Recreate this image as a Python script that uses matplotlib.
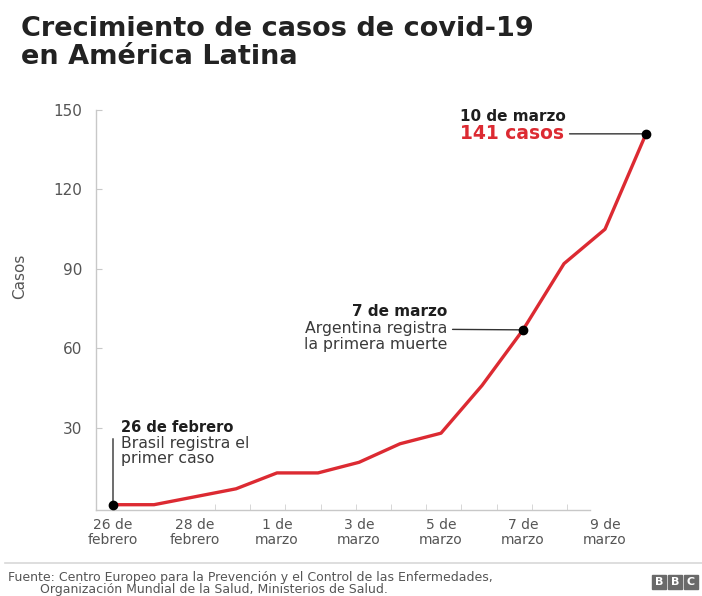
import matplotlib.pyplot as plt
import numpy as np
from matplotlib.patches import Rectangle

plt.rcParams['font.family'] = ['DejaVu Sans']

# casos acumulados, 26 feb - 10 mar 2020
days = list(range(14))
cases = [1, 1, 4, 7, 13, 13, 17, 24, 28, 46, 67, 92, 105, 141]
tick_days = [0, 2, 4, 6, 8, 10, 12]
tick_labels = ["26 de\nfebrero", "28 de\nfebrero", "1 de\nmarzo", "3 de\nmarzo",
               "5 de\nmarzo", "7 de\nmarzo", "9 de\nmarzo"]
y_ticks = [30, 60, 90, 120, 150]

RED = '#dc2a32'
DARK = '#1e1e1e'
TXT = '#3a3a3a'
GREY = '#555555'

W, H = 702, 596
fig = plt.figure(figsize=(W / 100, H / 100), dpi=100)

# axes box in pixels: left 96, right 680, top 110, bottom 510
ax = fig.add_axes([96 / W, (H - 510) / H, (680 - 96) / W, 400 / H])
px_day = 41.0
ax.set_xlim((96 - 113) / px_day, (680 - 113) / px_day)
ax.set_ylim(-1, 150)

ax.plot(days, cases, color=RED, lw=2.4, solid_joinstyle='round', zorder=3)

for s in ['top', 'right']:
    ax.spines[s].set_visible(False)
for s in ['left', 'bottom']:
    ax.spines[s].set_color('#c8c8c8')
    ax.spines[s].set_linewidth(1.0)
ax.spines['bottom'].set_bounds((96 - 113) / px_day, (590 - 113) / px_day)

ax.set_yticks(y_ticks)
ax.set_yticklabels([str(v) for v in y_ticks])
ax.tick_params(axis='y', direction='in', length=4, color='#c8c8c8',
               labelsize=11, labelcolor=GREY, pad=10)
ax.set_xticks(tick_days)
ax.set_xticklabels(tick_labels, linespacing=1.05)
ax.tick_params(axis='x', length=0, labelsize=10, labelcolor=GREY, pad=6)
ax.set_xticks(np.linspace(2.49, 11.07, 11), minor=True)
ax.tick_params(axis='x', which='minor', direction='in', length=4, color='#d0d0d0')
ax.set_ylabel("Casos", fontsize=11, color=GREY)
ax.yaxis.set_label_coords(-0.118, 0.585)

# puntos destacados
for d in [0, 10, 13]:
    ax.plot(d, cases[d], 'o', color='black', ms=6, zorder=4)

line_kw = dict(arrowstyle='-', color='#333333', lw=1.0)


def note(day, text, dx, dy, ha, **kw):
    return ax.annotate(text, xy=(day, cases[day]), xytext=(dx, dy),
                       textcoords='offset pixels', ha=ha, va='center', **kw)


# 10 de marzo
note(13, "141 casos", -186, 0, 'left', fontsize=13.5, fontweight='bold',
     color=RED, arrowprops=line_kw)
note(13, "10 de marzo", -186, 17, 'left', fontsize=11, fontweight='bold', color=DARK)

# 7 de marzo
note(10, "7 de marzo", -76, 18, 'right', fontsize=11, fontweight='bold', color=DARK)
note(10, "Argentina registra", -76, 1, 'right', fontsize=11.3, color=TXT,
     arrowprops=line_kw)
note(10, "la primera muerte", -76, -15, 'right', fontsize=11.3, color=TXT)

# 26 de febrero
ax.annotate("", xy=(0, cases[0]), xytext=(0, 66), textcoords='offset pixels',
            arrowprops=dict(line_kw, shrinkA=0, shrinkB=0))
note(0, "26 de febrero", 8, 77, 'left', fontsize=10.5, fontweight='bold', color=DARK)
note(0, "Brasil registra el", 8, 61, 'left', fontsize=11.3, color=TXT)
note(0, "primer caso", 8, 46, 'left', fontsize=11.3, color=TXT)

# titulo
fig.text(21 / W, 1 - 36 / H, "Crecimiento de casos de covid-19", ha='left',
         va='baseline', fontsize=19.5, fontweight='bold', color='#222222')
fig.text(21 / W, 1 - 64 / H, "en América Latina", ha='left',
         va='baseline', fontsize=19.5, fontweight='bold', color='#222222')

# pie
fig.add_artist(plt.Line2D([5 / W, 1], [1 - 563 / H] * 2, color='#d8d8d8', lw=1.2))
fig.text(8 / W, 1 - 578 / H,
         "Fuente: Centro Europeo para la Prevención y el Control de las Enfermedades,",
         ha='left', va='center', fontsize=9, color=GREY)
fig.text(40 / W, 1 - 590 / H, "Organización Mundial de la Salud, Ministerios de Salud.",
         ha='left', va='center', fontsize=9, color=GREY)
for i, ch in enumerate("BBC"):
    x0 = 652 + i * 16
    fig.add_artist(Rectangle((x0 / W, 1 - 589 / H), 14 / W, 14 / H,
                             transform=fig.transFigure, color='#6a6a6a'))
    fig.text((x0 + 7) / W, 1 - 582 / H, ch, ha='center', va='center',
             fontsize=8, fontweight='bold', color='white')

fig.savefig('out.png', dpi=100)
